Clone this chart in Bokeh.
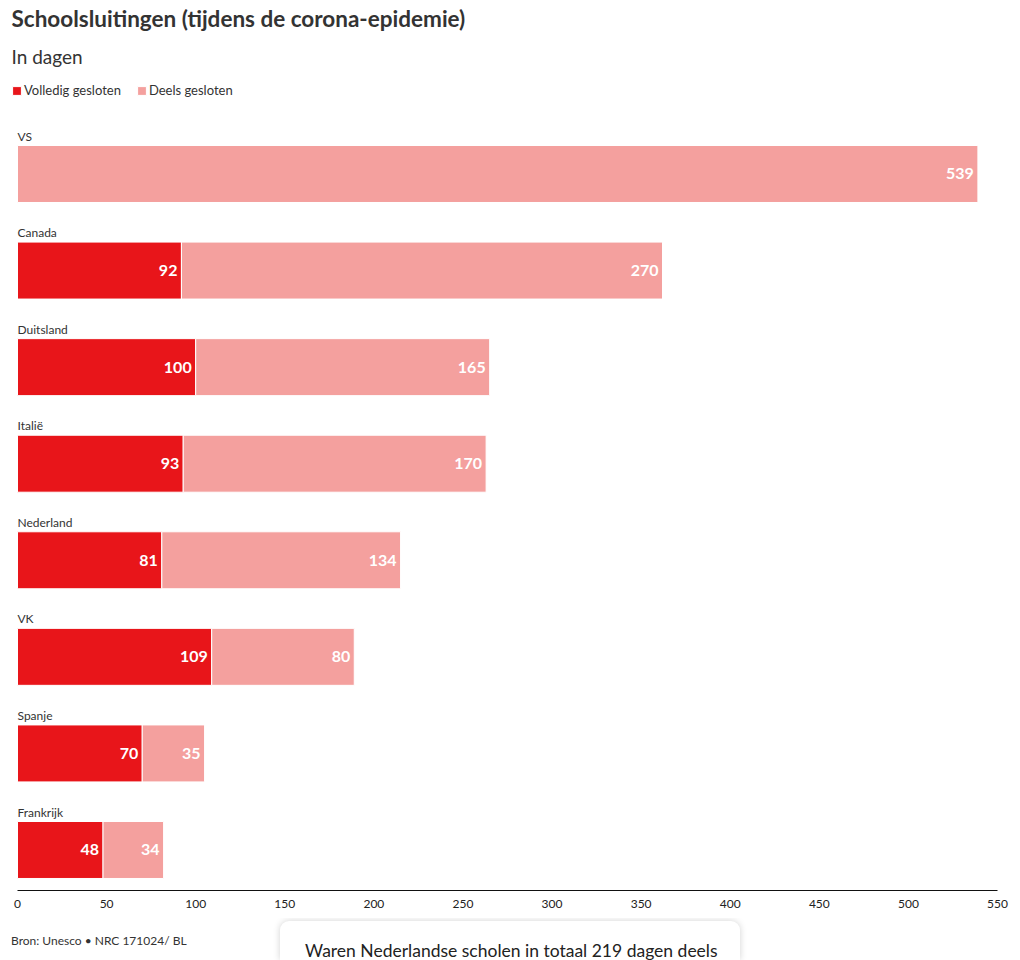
from bokeh.plotting import figure
from bokeh.models import ColumnDataSource, Range1d, Legend, LegendItem, Title, Div, FixedTicker
from bokeh.layouts import column
from bokeh.core.properties import value
from bokeh.embed import file_html
from bokeh.resources import INLINE

# ---- data ----
countries = ["VS", "Canada", "Duitsland", "Italië", "Nederland", "VK", "Spanje", "Frankrijk"]
volledig = [0, 92, 100, 93, 81, 109, 70, 48]
deels = [539, 270, 165, 170, 134, 80, 35, 34]
x_ticks = [0, 50, 100, 150, 200, 250, 300, 350, 400, 450, 500, 550]
series_names = ["Volledig gesloten", "Deels gesloten"]

title_text = "Schoolsluitingen (tijdens de corona-epidemie)"
subtitle_text = "In dagen"
source_text = "Bron: Unesco \u2022 NRC 171024/ BL"
popup_text = "Waren Nederlandse scholen in totaal 219 dagen deels"

RED = "#e8151a"
PINK = "#f4a09e"
FONT = "Lato"
BAR_H = 0.59

rows = list(range(len(countries)))
totals = [v + d for v, d in zip(volledig, deels)]

src = ColumnDataSource(dict(row=rows, country=countries, volledig=volledig, deels=deels, total=totals))

# frame starts 6px left of the zero line so the legend swatch can sit there
PX_PER_UNIT = 980 / 550
x_start = -6 / PX_PER_UNIT

p = figure(width=1012, height=918, title=None, output_backend="svg", toolbar_location=None,
           x_range=Range1d(x_start, 550), y_range=Range1d(7.4195, -0.9889),
           min_border_left=11, min_border_right=15, min_border_top=78, min_border_bottom=28)

renderers = p.hbar_stack(["volledig", "deels"], y="row", height=BAR_H, color=[RED, PINK],
                         line_color="white", line_width=1, source=src)

# country labels above bars
p.text(x=0, y=[r - BAR_H / 2 for r in rows], text=countries, text_font=value(FONT),
       text_font_size="12px", text_color="#333333", text_baseline="bottom", text_align="left",
       y_offset=-2)

# value labels
vi = [i for i, v in enumerate(volledig) if v > 0]
p.text(x=[volledig[i] for i in vi], y=[rows[i] for i in vi], text=[str(volledig[i]) for i in vi],
       text_font=value(FONT), text_font_size="16px", text_font_style="bold", text_color="white",
       text_align="right", text_baseline="middle", x_offset=-4)
p.text(x=totals, y=rows, text=[str(d) for d in deels],
       text_font=value(FONT), text_font_size="16px", text_font_style="bold", text_color="white",
       text_align="right", text_baseline="middle", x_offset=-4)

legend = Legend(items=[LegendItem(label=series_names[0], renderers=[renderers[0]], index=1),
                       LegendItem(label=series_names[1], renderers=[renderers[1]], index=1)],
                orientation="horizontal", location=(0, 792), padding=0, margin=0, spacing=15,
                glyph_width=11, glyph_height=11, label_standoff=2, label_height=14,
                label_text_font=FONT, label_text_font_size="13px", label_text_color="#333333",
                border_line_alpha=0, background_fill_alpha=0)
p.add_layout(legend, "center")

p.add_layout(Title(text=subtitle_text, text_font=FONT, text_font_size="19px", text_font_style="normal",
                   text_color="#333333", offset=0, standoff=22, text_line_height=0.8), "above")
p.add_layout(Title(text=title_text, text_font=FONT, text_font_size="22.5px", text_font_style="bold",
                   text_color="#333333", offset=0, standoff=0), "above")

ax = p.xaxis[0]
ax.ticker = FixedTicker(ticks=x_ticks)
ax.bounds = (0, 550)
ax.major_tick_out = 0
ax.major_tick_in = 0
ax.minor_tick_out = 0
ax.minor_tick_in = 0
ax.major_label_standoff = 9
ax.major_label_text_font = FONT
ax.major_label_text_font_size = "12px"
ax.major_label_text_color = "#222222"
ax.axis_line_color = "#111111"
ax.axis_line_width = 1
p.yaxis.visible = False
p.xgrid.visible = False
p.ygrid.visible = False
p.outline_line_color = None

footer_html = f"""
<div style="position:relative;width:1012px;height:42px;font-family:'{FONT}',sans-serif;">
  <div style="position:absolute;left:11px;top:15px;font-size:12px;line-height:15px;color:#333;white-space:nowrap;">{source_text}</div>
  <div style="position:absolute;left:280px;top:3px;width:460px;height:39px;background:#fff;
              border-radius:9px 9px 0 0;box-shadow:0 0 7px rgba(0,0,0,0.18);">
    <span style="position:absolute;left:25px;top:20px;font-size:17.5px;line-height:20px;color:#222;white-space:nowrap;">{popup_text}</span>
  </div>
</div>
"""
footer = Div(text=footer_html, width=1012, height=42, margin=0, styles={"overflow": "hidden"})

layout = column(p, footer, spacing=0)

with open("out.html", "w") as f:
    f.write(file_html(layout, INLINE))
